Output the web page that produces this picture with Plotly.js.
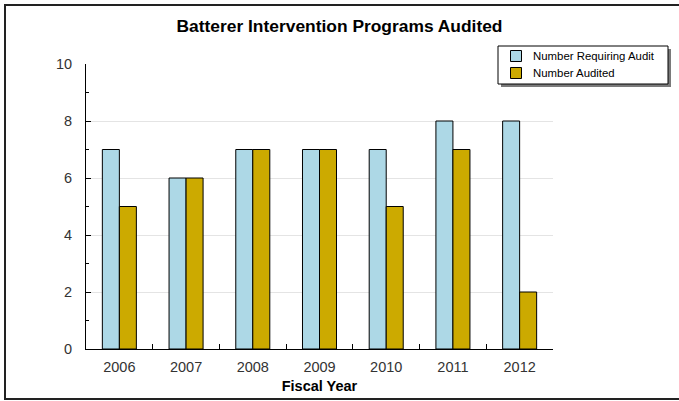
<!DOCTYPE html>
<html>
<head>
<meta charset="utf-8">
<script src="https://cdn.plot.ly/plotly-3.0.1.min.js"></script>
<style>
html,body{margin:0;padding:0;background:#fff;width:679px;height:401px;overflow:hidden;}
#frame{position:absolute;left:4px;top:4px;width:720px;height:392px;border-top:2px solid #222;border-left:2px solid #222;border-bottom:2px solid #222;}
#chart{position:absolute;left:0;top:0;width:679px;height:401px;}
</style>
</head>
<body>
<div id="frame"></div>
<div id="chart"></div>
<script>
var years = ["2006","2007","2008","2009","2010","2011","2012"];
var requiringAudit = [7,6,7,7,7,8,8];
var audited = [5,6,7,7,5,7,2];
var seriesNames = ["Number Requiring Audit","Number Audited"];
var seriesColors = ["#add8e6","#ccaa00"];

var L = 86, R = 553, T = 64, B = 349;
function px(x){return (x-L)/(R-L);}
function py(y){return (B-y)/(B-T);}

var traces = [
  {type:"bar", name:seriesNames[0], x:years, y:requiringAudit,
   marker:{color:seriesColors[0], line:{color:"#000", width:1}}},
  {type:"bar", name:seriesNames[1], x:years, y:audited,
   marker:{color:seriesColors[1], line:{color:"#000", width:1}}}
];

// legend box (drawn manually to match compact spacing)
var shapes = [
  {type:"rect", xref:"paper", yref:"paper", x0:px(501), x1:px(671), y0:py(87), y1:py(49),
   fillcolor:"#7a7a7a", line:{width:0}, layer:"above"},
  {type:"rect", xref:"paper", yref:"paper", x0:px(498), x1:px(668), y0:py(84), y1:py(46),
   fillcolor:"#fff", line:{color:"#000", width:1}, layer:"above"}
];
var annotations = [];
var rowY = [56, 73];
for (var i = 0; i < seriesNames.length; i++) {
  shapes.push({type:"rect", xref:"paper", yref:"paper", x0:px(510.5), x1:px(521.5),
    y0:py(rowY[i]+5.5), y1:py(rowY[i]-5.5), fillcolor:seriesColors[i],
    line:{color:"#000", width:1}, layer:"above"});
  annotations.push({xref:"paper", yref:"paper", x:px(531), y:py(rowY[i]), xanchor:"left",
    yanchor:"middle", text:seriesNames[i], showarrow:false,
    font:{size:11.4, color:"#000"}});
}

var layout = {
  width:679, height:401,
  margin:{l:L, r:679-R, t:T, b:401-B, pad:0},
  paper_bgcolor:"rgba(0,0,0,0)", plot_bgcolor:"#fff",
  font:{family:"Liberation Sans, Arial, sans-serif", color:"#222"},
  title:{text:"<b>Batterer Intervention Programs Audited</b>", font:{size:17.4, color:"#000"},
         x:0.5, xref:"container", y:1-26/401, yref:"container", yanchor:"middle"},
  barmode:"group", bargap:0.49, bargroupgap:0,
  showlegend:false,
  xaxis:{type:"category", showline:true, linecolor:"#000", linewidth:1,
         ticks:"inside", tickson:"boundaries", ticklen:5, tickcolor:"#000",
         tickfont:{size:14.5, color:"#333"}, showgrid:false, zeroline:false,
         ticklabelstandoff:5,
         title:{text:"<b>Fiscal Year</b>", font:{size:14.5, color:"#000"}, standoff:6}},
  yaxis:{range:[0,10], dtick:2, showline:true, linecolor:"#000", linewidth:1,
         ticks:"inside", ticklen:5, tickcolor:"#000",
         minor:{dtick:1, ticks:"inside", ticklen:3, tickcolor:"#000", showgrid:false},
         tickfont:{size:14.5, color:"#333"}, showgrid:true, gridcolor:"#e4e4e4",
         zeroline:false, ticklabelstandoff:10},
  shapes:shapes,
  annotations:annotations
};

Plotly.newPlot("chart", traces, layout, {displayModeBar:false, staticPlot:true});
</script>
</body>
</html>
